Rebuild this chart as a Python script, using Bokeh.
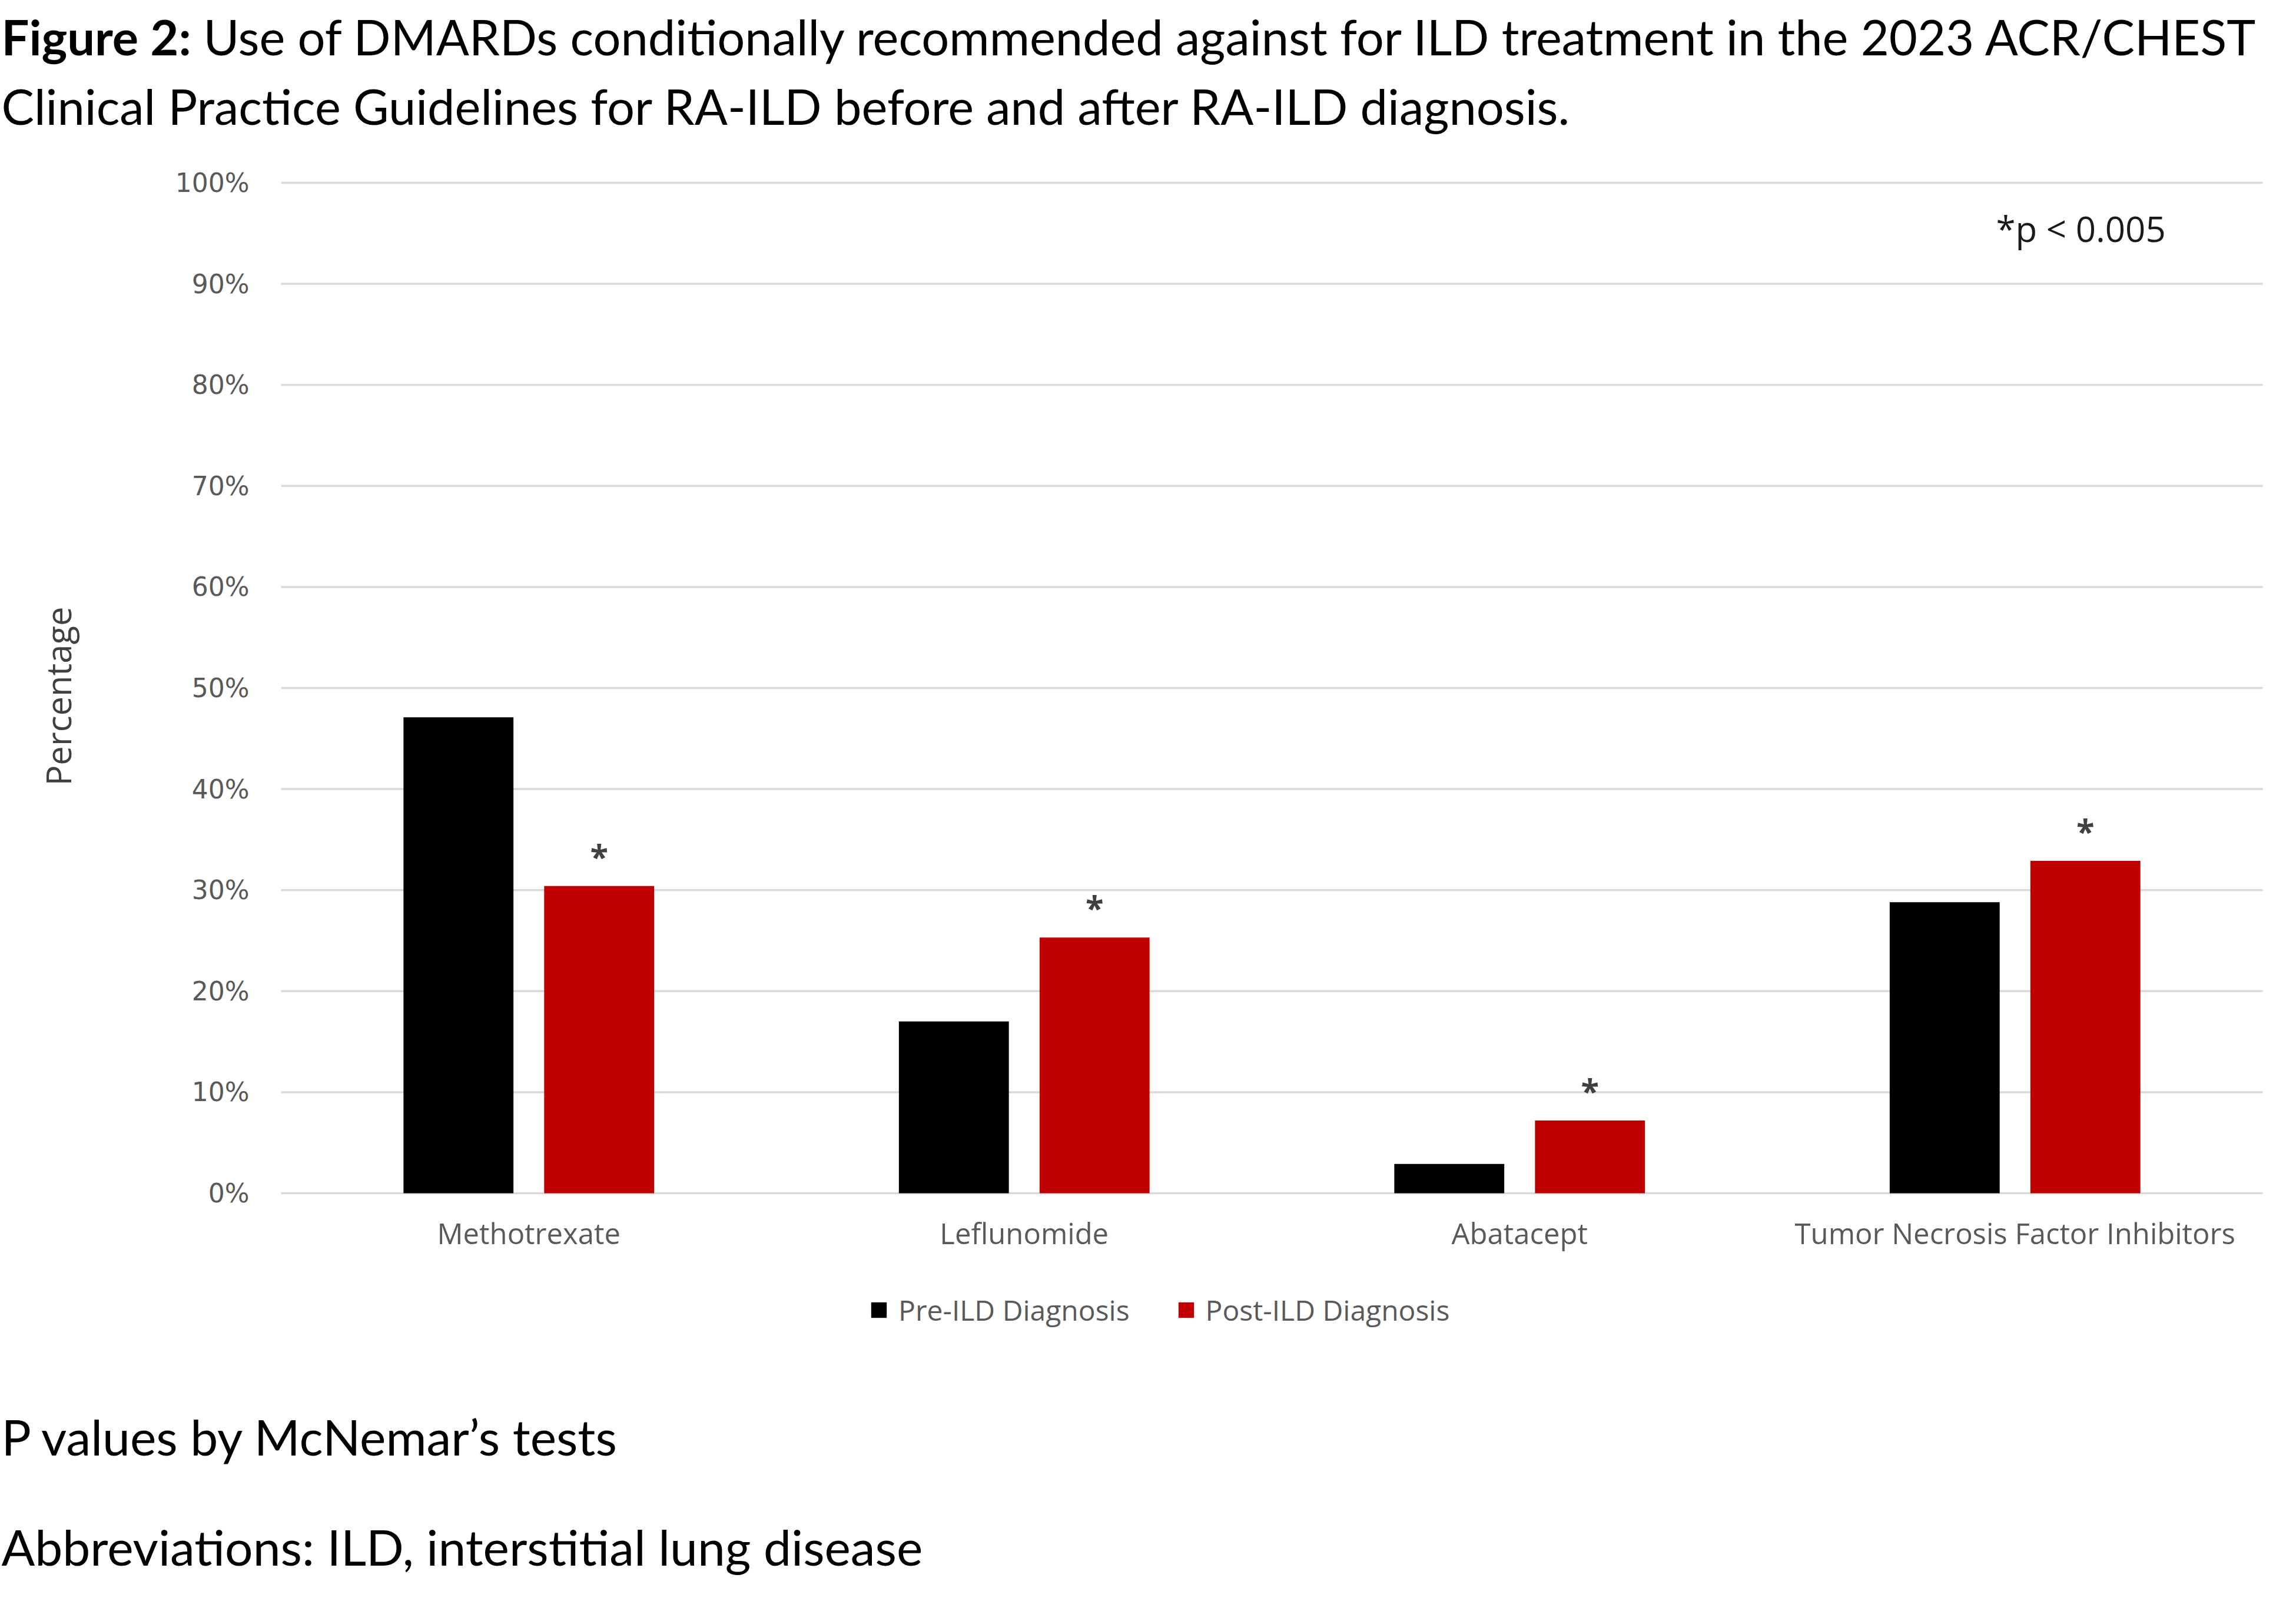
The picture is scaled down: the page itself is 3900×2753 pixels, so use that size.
from bokeh.plotting import figure
from bokeh.models import Range1d, Label, Legend, LegendItem, ColumnDataSource
from bokeh.core.properties import value
from bokeh.transform import dodge
from bokeh.embed import file_html
from bokeh.resources import INLINE
import math

# ---- data ----
categories = ["Methotrexate", "Leflunomide", "Abatacept", "Tumor Necrosis Factor Inhibitors"]
pre_ild = [47.1, 17.0, 2.9, 28.8]
post_ild = [30.4, 25.3, 7.2, 32.9]
significant = ["*", "*", "*", "*"]
y_ticks = [0, 10, 20, 30, 40, 50, 60, 70, 80, 90, 100]
y_tick_labels = ["0%", "10%", "20%", "30%", "40%", "50%", "60%", "70%", "80%", "90%", "100%"]
series_names = ["Pre-ILD Diagnosis", "Post-ILD Diagnosis"]
series_colors = ["#000000", "#C00000"]

title_bold = "Figure 2:"
title_rest = "Use of DMARDs conditionally recommended against for ILD treatment in the 2023 ACR/CHEST"
title_line2 = "Clinical Practice Guidelines for RA-ILD before and after RA-ILD diagnosis."
y_label = "Percentage"
note_p = "*p < 0.005"
foot1 = "P values by McNemar\u2019s tests"
foot2 = "Abbreviations: ILD, interstitial lung disease"

# ---- layout (pixels of the canvas) ----
W, H = 3884, 2737
PLOT_L, PLOT_R = 477, 3843     # plot area left/right
PLOT_T, PLOT_B = 310, 2026     # y = 100% and y = 0%
n = len(categories)
px_per_cat = (PLOT_R - PLOT_L) / n
px_per_pct = (PLOT_B - PLOT_T) / 100.0
x_start = -0.5 - PLOT_L / px_per_cat
x_end = -0.5 + (W - PLOT_L) / px_per_cat
y_end = PLOT_B / px_per_pct
y_start = -(H - PLOT_B) / px_per_pct

p = figure(width=W, height=H, x_range=Range1d(x_start, x_end), y_range=Range1d(y_start, y_end),
           x_axis_location=None, y_axis_location=None, output_backend="svg",
           toolbar_location=None, min_border=0, min_border_left=0, min_border_right=0,
           min_border_top=0, min_border_bottom=0)
p.outline_line_color = None
p.grid.grid_line_color = None

idx = list(range(n))
src = ColumnDataSource(dict(idx=idx, cat=categories, pre=pre_ild, post=post_ild, star=significant))
tick_src = ColumnDataSource(dict(y=y_ticks, lab=y_tick_labels,
                                 x0=[-0.5] * len(y_ticks), x1=[n - 0.5] * len(y_ticks)))

# horizontal gridlines
p.segment(x0="x0", x1="x1", y0="y", y1="y", source=tick_src, line_color="#d9d9d9", line_width=3.5)
# y tick labels
p.text(x="x0", y="y", text="lab", source=tick_src, x_offset=-54, text_align="right",
       text_baseline="middle", text_font=value("DejaVu Sans"), text_font_size="44px",
       text_color="#595959")

BW = 0.222
OFF = 0.142
r_pre = p.vbar(x=dodge("idx", -OFF), top="pre", width=BW, source=src,
               fill_color=series_colors[0], line_color=None)
r_post = p.vbar(x=dodge("idx", OFF), top="post", width=BW, source=src,
                fill_color=series_colors[1], line_color=None)
p.text(x=dodge("idx", OFF), y="post", text="star", source=src,
       text_align="center", text_baseline="alphabetic", y_offset=-52,
       text_font_size="56px", text_font_style="bold", text_color="#404040",
       text_font=value("Open Sans"))

# category labels
cat_src = ColumnDataSource(dict(idx=idx, cat=categories, zero=[0] * n))
p.text(x="idx", y="zero", text="cat", source=cat_src, text_align="center",
       text_baseline="alphabetic", y_offset=67, text_font=value("Open Sans"),
       text_font_size="49px", text_color="#595959")

# legend
legend = Legend(items=[LegendItem(label=series_names[0], renderers=[r_pre]),
                       LegendItem(label=series_names[1], renderers=[r_post])],
                orientation="horizontal", location=(1476, 480),
                glyph_width=33, glyph_height=33, label_height=33, label_standoff=17, spacing=79,
                padding=0, margin=0, border_line_color=None, background_fill_alpha=0,
                label_text_font="Open Sans", label_text_font_size="48px",
                label_text_color="#595959")
p.add_layout(legend)


def add_label(txt, x, y_top, size, font="Lato", style="normal", color="black", shift=0,
              angle=0, align="left", baseline="alphabetic"):
    p.add_layout(Label(x=x, y=H - y_top + shift, x_units="screen", y_units="screen", text=txt,
                       text_font=font, text_font_size=size, text_font_style=style,
                       text_color=color, text_baseline=baseline, text_align=align, angle=angle))


add_label(title_bold, 2, 87, "83px", style="bold", shift=26)
add_label(title_rest, 345, 87, "83px", shift=26)
add_label(title_line2, 2, 205, "83px", shift=26)
add_label(note_p, 3390, 408, "60px", font="Open Sans", color="#1a1a1a", shift=21)
add_label(foot1, 2, 2465, "84px", shift=26)
add_label(foot2, 2, 2652, "84px", shift=26)
add_label(y_label, 98, 1182, "58px", font="Open Sans", color="#404040",
          angle=math.pi / 2, align="center", baseline="middle")

open("out.html", "w").write(file_html(p, INLINE))
